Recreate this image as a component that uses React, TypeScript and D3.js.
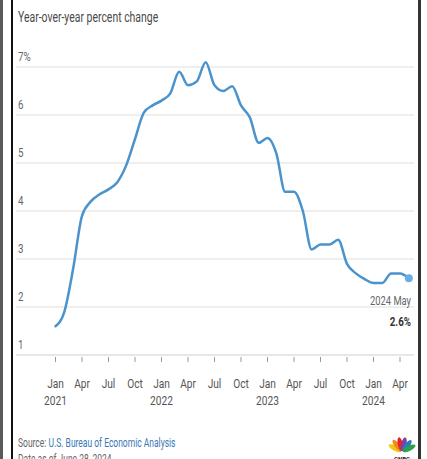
import React from "react";
import * as d3 from "d3";

const values2021 = [1.6, 1.9, 2.8, 3.9, 4.2, 4.35, 4.45, 4.6, 4.95, 5.5, 6.05, 6.2];
const values2022 = [6.3, 6.45, 6.9, 6.62, 6.7, 7.1, 6.62, 6.5, 6.6, 6.2, 5.95, 5.42];
const values2023 = [5.52, 5.2, 4.4, 4.4, 4.0, 3.2, 3.3, 3.3, 3.4, 2.9, 2.7, 2.58];
const values2024 = [2.5, 2.5, 2.7, 2.7, 2.6];
const series = [...values2021, ...values2022, ...values2023, ...values2024];

const monthLabels = ["Jan", "Apr", "Jul", "Oct"];
const years = ["2021", "2022", "2023", "2024"];
const yTicks = [1, 2, 3, 4, 5, 6, 7];

const FONT = "Roboto, 'Liberation Sans', sans-serif";

function T(props: any) {
  const { x, y, sx = 0.78, children, ...rest } = props;
  return (
    <text transform={`translate(${x},${y}) scale(${sx},1)`} {...rest}>
      {children}
    </text>
  );
}

export default function App() {
  const W = 427, H = 459;
  const x = d3.scaleLinear().domain([0, 39]).range([55.5, 400]);
  const y = d3.scaleLinear().domain([1, 7]).range([355, 67]);
  const line = d3
    .line<number>()
    .x((_, i) => x(i))
    .y((d) => y(d))
    .curve(d3.curveMonotoneX);
  const tickIdx = d3.range(0, 40, 3);
  const last = series.length - 1;

  return (
    <svg width={W} height={H} style={{ position: "absolute", left: 0, top: 0, background: "#fff" }} fontFamily={FONT}>
      <rect x={0} y={0} width={W} height={H} fill="#fff" />
      {/* frame */}
      <rect x={0} y={0} width={3} height={H} fill="#5a5a5a" />
      <rect x={11} y={0} width={2} height={H} fill="#111" />
      <rect x={418} y={0} width={3} height={H} fill="#333" />

      <T x={18} y={22} sx={0.72} fontSize={14.5} fill="#4a4a4a">Year-over-year percent change</T>

      {yTicks.map((t) => (
        <g key={t}>
          <line x1={16} x2={414} y1={y(t)} y2={y(t)} stroke={t === 1 ? "#cfcfcf" : "#dedede"} strokeWidth={1} />
          <T x={18} y={y(t) - 6} fontSize={12.5} fill="#666">{t === 7 ? "7%" : t}</T>
        </g>
      ))}

      {tickIdx.map((m, k) => (
        <g key={m}>
          <line x1={x(m)} x2={x(m)} y1={357} y2={362} stroke="#999" strokeWidth={1} />
          <T x={x(m)} y={388} fontSize={13} fill="#555" textAnchor="middle">{monthLabels[k % 4]}</T>
          {k % 4 === 0 && (
            <T x={x(m)} y={405} fontSize={13} fill="#555" textAnchor="middle">{years[k / 4]}</T>
          )}
        </g>
      ))}

      <path d={line(series) || ""} fill="none" stroke="#4b93cc" strokeWidth={2.5} strokeLinejoin="round" strokeLinecap="round" />
      <circle cx={x(last)} cy={y(series[last])} r={4} fill="#6aaee0" />

      <T x={411} y={305} sx={0.72} fontSize={13} fill="#666" textAnchor="end">2024 May</T>
      <T x={411} y={326} sx={0.75} fontSize={13} fill="#333" fontWeight="bold" textAnchor="end">{series[last]}%</T>

      <T x={18} y={447} sx={0.68} fontSize={12.5} fill="#666">
        Source: <tspan fill="#3a78b5">U.S. Bureau of Economic Analysis</tspan>
      </T>
      <T x={18} y={463} sx={0.68} fontSize={12.5} fill="#666">Date as of June 28, 2024</T>

      {/* peacock logo */}
      <g transform="translate(402,452)">
        {["#f5c518", "#f08a1c", "#e2242c", "#7c4199", "#2f77c0", "#2aa44a"].map((c, i) => (
          <ellipse key={c} cx={0} cy={-8} rx={2.6} ry={7} fill={c} transform={`rotate(${-62 + i * 25})`} />
        ))}
        <text x={0} y={9} fontSize={6} fontWeight="bold" textAnchor="middle" fill="#222">CNBC</text>
      </g>
    </svg>
  );
}
